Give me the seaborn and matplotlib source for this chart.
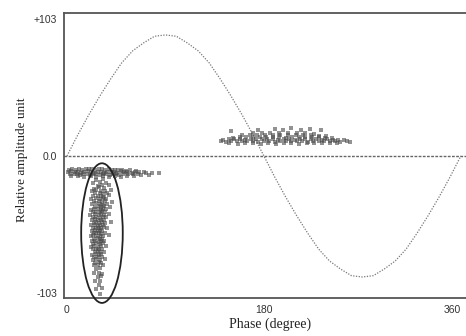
import matplotlib
matplotlib.use("Agg")
import matplotlib.pyplot as plt
import pandas as pd
import seaborn as sns
from matplotlib.patches import Ellipse

# ---------------- data ----------------
# reference voltage wave, every 10 degrees
sine_phase = list(range(0, 361, 10))
sine_amp = [0, 16, 31, 45, 58, 70, 79, 85, 90, 91, 90, 85, 79, 70, 58, 45, 31, 16, 0,
            -16, -31, -45, -58, -70, -79, -85, -90, -91, -90, -85, -79, -70, -58, -45, -31, -16, 0]

# negative horizontal band (phase 0-85 deg)
a_phase = [2, 5, 8, 11, 14, 17, 20, 23, 26, 29, 32, 35, 38, 41, 44, 47, 50, 54, 58, 63,
           1, 4, 7, 10, 13, 16, 19, 22, 25, 28, 31, 34, 37, 40, 43, 46, 49, 52, 55, 59, 62, 66, 70,
           3, 6, 9, 12, 15, 18, 21, 24, 27, 30, 33, 36, 39, 42, 45, 48, 51, 56, 60, 65, 72, 78,
           4, 10, 16, 22, 27, 33, 38, 44, 49, 55, 61, 68, 75, 84]
a_amp = [-10.5, -9.8, -10.2, -9.5, -10.8, -9.9, -10.1, -9.6, -10.4, -9.8, -10.0, -10.6, -9.7, -10.3, -10.9, -10.2, -10.7, -11.0, -10.8, -11.2,
         -12.1, -11.6, -12.4, -11.8, -12.7, -12.0, -11.5, -12.3, -12.9, -11.7, -12.2, -12.6, -11.9, -12.4, -12.1, -12.8, -11.6, -12.3, -12.0, -12.5, -11.8, -12.2, -12.0,
         -13.4, -13.9, -13.2, -14.0, -13.6, -13.3, -14.2, -13.7, -13.5, -14.1, -13.8, -13.4, -14.3, -13.6, -13.9, -14.0, -13.5, -13.8, -13.2, -13.6, -12.8, -12.5,
         -15.2, -14.9, -15.6, -15.0, -16.1, -15.4, -15.8, -15.1, -15.5, -14.8, -15.3, -14.6, -14.2, -13.0]

# vertical cluster (circled)
b_phase = [27, 33, 24, 30, 36, 28, 32, 38, 25, 29, 34, 23, 27, 31, 35, 40, 26, 30, 33, 37,
           24, 28, 31, 34, 38, 22, 27, 30, 33, 36, 25, 29, 32, 35, 41, 23, 27, 30, 33, 37,
           26, 29, 31, 34, 39, 22, 25, 28, 31, 33, 36, 24, 27, 30, 32, 35, 21, 26, 29, 31, 34, 38,
           24, 27, 30, 33, 36, 23, 26, 28, 31, 34, 25, 27, 29, 32, 35, 40, 22, 26, 28, 30, 33,
           24, 27, 29, 31, 34, 37, 23, 26, 28, 30, 32, 25, 27, 29, 31, 35, 22, 24, 27, 30, 33, 38,
           25, 28, 30, 32, 23, 26, 29, 31, 34, 24, 27, 30, 33, 22, 25, 28, 31, 36, 24, 27, 29, 32,
           26, 28, 30, 34, 23, 27, 29, 31, 25, 28, 32, 24, 27, 30, 35, 26, 29, 31, 25, 28, 33,
           27, 30, 25, 29, 32, 28, 31, 26, 30, 29, 27, 32, 30]
b_amp = [-18.2, -17.6, -20.3, -19.7, -20.6, -22.4, -21.8, -22.1, -24.5, -23.7, -24.2,
         -26.3, -25.8, -26.6, -26.0, -25.5, -28.2, -27.7, -28.5, -28.0,
         -30.4, -29.8, -30.1, -30.6, -29.5, -32.2, -31.6, -32.5, -31.9, -32.3,
         -34.1, -33.6, -34.4, -33.8, -34.6, -36.3, -35.7, -36.0, -36.5, -35.9,
         -38.2, -37.6, -38.5, -37.9, -38.1, -40.4, -39.7, -40.1, -40.6, -39.8, -40.2,
         -42.3, -41.8, -42.5, -41.6, -42.0, -44.1, -43.7, -44.4, -43.9, -44.2, -43.6,
         -46.2, -45.8, -46.5, -45.6, -46.1, -48.3, -47.7, -48.0, -48.4, -47.9,
         -50.2, -49.6, -50.5, -49.9, -50.3, -49.7, -52.1, -51.7, -52.4, -51.8, -52.2,
         -54.3, -53.8, -54.1, -54.5, -53.7, -54.0, -56.2, -55.7, -56.4, -55.9, -56.1,
         -58.3, -57.8, -58.0, -58.5, -57.6, -60.1, -59.7, -60.4, -59.9, -60.2, -59.6,
         -62.3, -61.8, -62.1, -62.5, -64.2, -63.7, -64.4, -63.9, -64.1,
         -66.3, -65.8, -66.1, -65.6, -68.2, -67.7, -68.4, -67.9, -68.0,
         -70.3, -69.8, -70.1, -69.6, -72.2, -71.7, -72.4, -71.9, -74.1, -73.6, -74.3, -73.8,
         -76.2, -75.7, -76.0, -78.3, -77.8, -78.1, -77.6, -80.2, -79.7, -80.4, -82.1, -81.8, -82.3,
         -85.2, -84.6, -88.1, -87.7, -88.4, -91.2, -90.6, -94.1, -93.7, -97.2, -100.3, -99.6, -104.0]

# positive horizontal band (phase 140-260 deg)
c_phase = [148, 156, 163, 170, 177, 184, 191, 198, 205, 212, 219, 226, 233, 240, 247,
           141, 145, 150, 155, 160, 165, 170, 175, 180, 185, 190, 195, 200, 205, 210, 215, 220, 225, 230, 235, 240, 245, 250, 256,
           143, 148, 153, 158, 163, 168, 173, 178, 183, 188, 193, 198, 203, 208, 213, 218, 223, 228, 233, 238, 243, 248, 253,
           152, 158, 164, 170, 176, 182, 188, 194, 200, 206, 212, 218, 224, 230, 236, 242,
           160, 167, 174, 181, 188, 195, 202, 209, 216, 223, 230, 237,
           170, 178, 186, 194, 202, 210, 218, 226,
           150, 175, 190, 197, 205, 214, 222, 232, 259]
c_amp = [9.6, 9.2, 9.8, 9.4, 9.1, 9.7, 9.3, 9.9, 9.5, 9.2, 9.6, 9.8, 9.4, 9.7, 10.0,
         11.2, 10.8, 11.0, 11.4, 10.9, 11.3, 11.1, 10.7, 11.5, 11.0, 10.8, 11.2, 11.4, 10.9, 11.1, 11.3, 10.8, 11.0, 11.2, 10.9, 11.3, 11.0, 10.7, 10.9,
         12.2, 12.6, 12.4, 12.8, 12.3, 12.7, 12.5, 12.9, 12.4, 12.6, 12.2, 12.8, 12.5, 12.3, 12.7, 12.6, 12.4, 12.8, 12.3, 12.5, 12.2, 12.0, 11.8,
         13.8, 14.2, 14.0, 14.4, 13.9, 14.3, 14.1, 14.5, 13.8, 14.2, 14.0, 14.3, 13.9, 14.1, 13.6, 13.4,
         15.4, 15.8, 15.6, 15.9, 15.5, 16.0, 15.7, 15.4, 15.8, 15.5, 15.2, 14.9,
         17.2, 16.9, 17.4, 17.1, 17.5, 17.0, 17.3, 16.8,
         19.1, 19.6, 20.3, 19.4, 21.0, 19.8, 20.5, 19.2, 10.3]

x_ticks = [0, 180, 360]
x_ticklabels = ["0", "180", "360"]
y_ticks = [103, 0, -103]
y_ticklabels = ["+103", "0.0", "-103"]

# ---------------- drawing ----------------
sns.set_style("white")
plt.rcParams["font.family"] = ["Liberation Sans", "DejaVu Sans"]

fig = plt.figure(figsize=(4.66, 3.36), dpi=100)
ax = fig.add_axes([64 / 466, 38 / 336, 402 / 466, 285 / 336])

sine_df = pd.DataFrame({"phase": sine_phase, "amp": sine_amp})
sns.lineplot(data=sine_df, x="phase", y="amp", ax=ax, color="#777777",
             lw=0.9, linestyle=(0, (1, 1.2)), zorder=2)

pts = pd.concat([
    pd.DataFrame({"phase": a_phase, "amp": a_amp}),
    pd.DataFrame({"phase": b_phase, "amp": b_amp}),
    pd.DataFrame({"phase": c_phase, "amp": c_amp}),
])
sns.scatterplot(data=pts, x="phase", y="amp", ax=ax, marker="s", s=9,
                color="#4a4a4a", alpha=0.6, linewidth=0, legend=False, zorder=3)

ax.axhline(0, color="#666666", lw=1.0, linestyle=(0, (2, 1)), zorder=1)

ell = Ellipse((32, -58), width=38, height=105, fill=False, lw=1.3,
              edgecolor="#222222", clip_on=False, zorder=4)
ax.add_patch(ell)

ax.set_xlim(-2.7, 364.7)
ax.set_ylim(-106.8, 107.5)
ax.set_xticks(x_ticks)
ax.set_xticklabels(x_ticklabels)
ax.set_yticks(y_ticks)
ax.set_yticklabels(y_ticklabels)
ax.tick_params(length=0, pad=5, labelsize=7.5, labelcolor="#333333")
ax.get_xticklabels()[-1].set_horizontalalignment("right")

for s in ["left", "top", "bottom"]:
    ax.spines[s].set_color("#555555")
    ax.spines[s].set_linewidth(1.3)
ax.spines["right"].set_visible(False)

ax.set_xlabel("Phase (degree)", family=["Liberation Serif", "DejaVu Serif"],
              fontsize=10, color="#222222")
ax.set_ylabel("Relative amplitude unit", family=["Liberation Serif", "DejaVu Serif"],
              fontsize=9.5, color="#222222")
ax.xaxis.set_label_coords((270 - 64) / 402, -0.070)
ax.yaxis.set_label_coords((28 - 64) / 402, 0.484)

fig.savefig("out.png", dpi=100)
